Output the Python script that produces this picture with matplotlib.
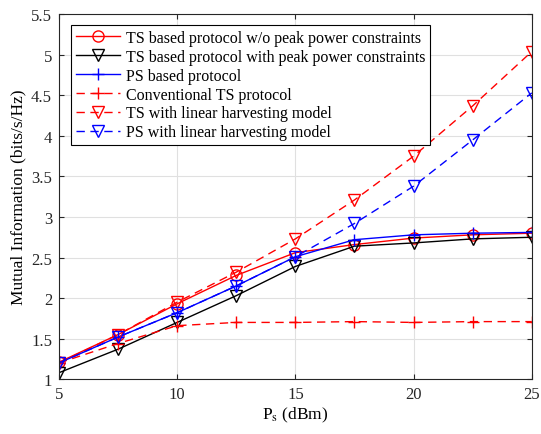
import matplotlib.pyplot as plt

plt.rcParams['font.family'] = ['Liberation Serif', 'DejaVu Serif']
plt.rcParams['mathtext.fontset'] = 'stix'

# Ps (dBm)
ps = [5, 7.5, 10, 12.5, 15, 17.5, 20, 22.5, 25]

ts_no_peak = [1.21, 1.55, 1.93, 2.28, 2.56, 2.66, 2.74, 2.78, 2.80]
ts_peak = [1.08, 1.37, 1.70, 2.03, 2.39, 2.64, 2.68, 2.73, 2.75]
ps_based = [1.20, 1.52, 1.82, 2.15, 2.51, 2.72, 2.78, 2.80, 2.81]
conv_ts = [1.20, 1.44, 1.66, 1.70, 1.70, 1.71, 1.70, 1.71, 1.71]
ts_linear = [1.20, 1.55, 1.95, 2.32, 2.73, 3.21, 3.75, 4.37, 5.04]
ps_linear = [1.20, 1.52, 1.82, 2.15, 2.51, 2.92, 3.38, 3.95, 4.53]

labels = ["TS based protocol w/o peak power constraints",
          "TS based protocol with peak power constraints",
          "PS based protocol",
          "Conventional TS protocol",
          "TS with linear harvesting model",
          "PS with linear harvesting model"]

fig = plt.figure(figsize=(5.41, 4.35), dpi=100)
ax = fig.add_axes([0.109, 0.126, 0.874, 0.839])

ms = 8
ax.plot(ps, ts_no_peak, color='red', marker='o', ms=ms, mfc='none', lw=1, label=labels[0])
ax.plot(ps, ts_peak, color='black', marker='v', ms=ms, mfc='none', lw=1, label=labels[1])
ax.plot(ps, ps_based, color='blue', marker='+', ms=ms, lw=1, label=labels[2])
ax.plot(ps, conv_ts, color='red', marker='+', ms=ms, lw=1, ls=(0, (6, 4)), label=labels[3])
ax.plot(ps, ts_linear, color='red', marker='v', ms=ms, mfc='none', lw=1, ls=(0, (6, 4)), label=labels[4])
ax.plot(ps, ps_linear, color='blue', marker='v', ms=ms, mfc='none', lw=1, ls=(0, (6, 4)), label=labels[5])

ax.set_xlim(5, 25)
ax.set_ylim(1, 5.5)
ax.set_xticks([5, 10, 15, 20, 25])
ax.set_yticks([1, 1.5, 2, 2.5, 3, 3.5, 4, 4.5, 5, 5.5])
ax.set_yticklabels(['1', '1.5', '2', '2.5', '3', '3.5', '4', '4.5', '5', '5.5'])
ax.tick_params(direction='in', labelsize=12, top=True, right=True, colors='#262626', pad=5)
ax.grid(True, color='#e0e0e0', lw=0.8)
ax.set_axisbelow(True)
for s in ax.spines.values():
    s.set_color('#262626')
    s.set_linewidth(0.8)

ax.set_xlabel(r'P$_\mathrm{s}$ (dBm)', fontsize=12.5, labelpad=2)
ax.set_ylabel('Mutual Information (bits/s/Hz)', fontsize=12.5, labelpad=3)

leg = ax.legend(loc='upper left', fontsize=11.5, handlelength=2.8, handletextpad=0.35,
                labelspacing=0.18, borderpad=0.3, fancybox=False, framealpha=1,
                edgecolor='black', bbox_to_anchor=(0.0254, 0.970), borderaxespad=0)
leg.get_frame().set_linewidth(0.8)

fig.savefig('out.png', dpi=100)
